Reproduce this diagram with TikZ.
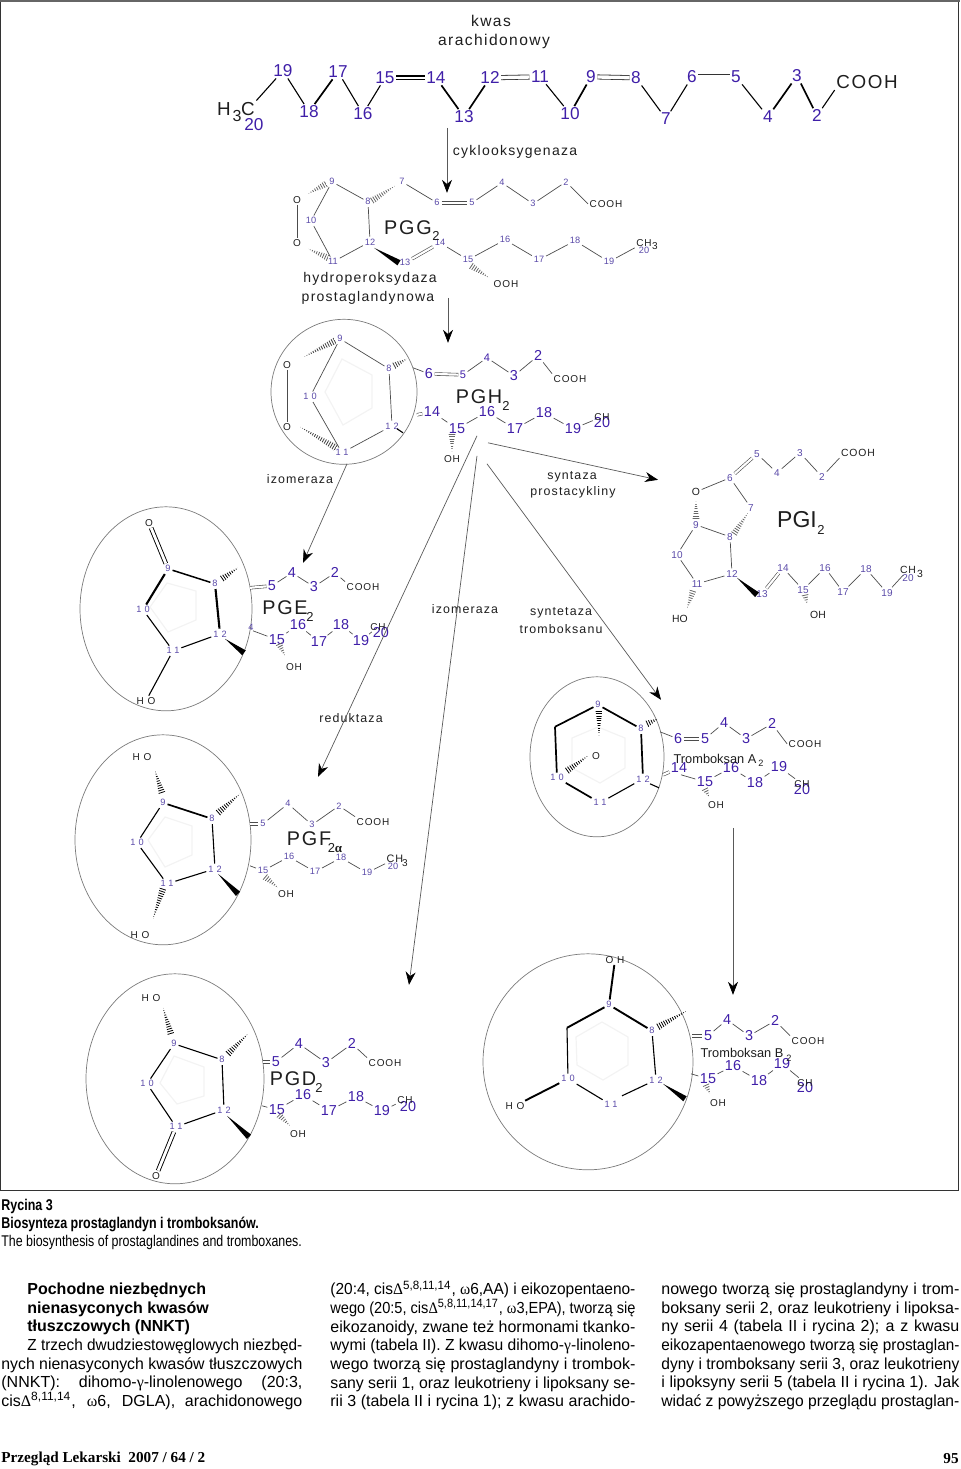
\documentclass[tikz,border=0pt]{standalone}
\usepackage{fontspec}
\usepackage{graphicx}
\usetikzlibrary{arrows.meta,calc,shapes.geometric}
\setmainfont{Liberation Sans}
\newfontfamily\spacedfont[LetterSpace=9]{Liberation Sans}
\newfontfamily\ringfont[LetterSpace=35]{Liberation Sans}
\newfontfamily\narrowfont[FakeStretch=0.8]{Liberation Sans}
\newfontfamily\greekfont{Liberation Serif}
\definecolor{numblue}{HTML}{3F1FA8}
\definecolor{numpurple}{HTML}{5A4AA8}
\definecolor{ink}{HTML}{1E1E1E}
\definecolor{ringline}{HTML}{7A7A7A}
\definecolor{ghostline}{HTML}{F3F3F3}
\tikzset{
    bignum/.style={inner sep=0.6pt,text=numblue,font=\fontsize{8.6}{9}\selectfont},
    midnum/.style={inner sep=0.6pt,text=numblue,font=\fontsize{7.2}{8}\selectfont},
    tinynum/.style={inner sep=0.8pt,text=numpurple,font=\fontsize{4.6}{5}\selectfont},
    ringnum/.style={inner sep=0.8pt,text=numpurple,font=\ringfont\fontsize{4.6}{5}\selectfont},
    atomtext/.style={inner sep=0.6pt,text=ink,font=\spacedfont\fontsize{5}{6}\selectfont},
    bigatom/.style={inner sep=0.6pt,text=ink,font=\spacedfont\fontsize{9.4}{10}\selectfont},
    prostname/.style={inner sep=0pt,text=ink,font=\spacedfont\fontsize{9.9}{11}\selectfont},
    subname/.style={inner sep=0pt,text=ink,font=\fontsize{6.5}{7}\selectfont},
    enzyme/.style={inner sep=0pt,text=ink,font=\spacedfont\fontsize{7}{8}\selectfont},
    lowenzyme/.style={inner sep=0pt,text=ink,font=\spacedfont\fontsize{6.2}{8}\selectfont},
    bond/.style={draw=black!70,line width=0.35pt},
    darkbond/.style={draw=black,line width=0.55pt},
    boldbond/.style={draw=black,line width=1.05pt},
    dblbond/.style={draw=black!70,line width=0.3pt,double=white,double distance=1.1pt},
    blackdbl/.style={draw=black,line width=0.45pt,double=white,double distance=1.4pt},
    ghost/.style={draw=ghostline,line width=0.6pt},
    lens/.style={draw=ringline,line width=0.35pt},
    pathway/.style={draw=black!65,line width=0.35pt,-{Stealth[length=6.5pt,width=5pt,black]}}
}
\newcommand{\wedgebond}[2]{\fill[black] (#1) -- ($(#2)!1.5pt!90:(#1)$) -- ($(#2)!1.5pt!-90:(#1)$) -- cycle;}
\newcommand{\hashbond}[3][black]{\begin{scope}
    \clip ($(#2)!1.7pt!90:(#3)$) -- ($(#2)!1.7pt!-90:(#3)$) -- (#3) -- cycle;
    \draw[#1,line width=4pt,dash pattern=on 0.4pt off 0.8pt] (#2) -- (#3);
\end{scope}}
\newsavebox\linebox
\newcommand{\colline}[1]{\sbox\linebox{#1}\ifdim\wd\linebox>\colw\relax\resizebox{\colw}{\ht\linebox}{\usebox\linebox}\else\makebox[\colw][s]{#1}\fi}
\newcommand{\gk}[1]{{\greekfont #1}}
\begin{document}
\begin{tikzpicture}[x=0.5pt,y=-0.5pt,every node/.style={yshift=-0.4pt}]
    \useasboundingbox (0,0) rectangle (960,1469);
    % Frame
    \draw[black!80,line width=0.5pt] (0.5,1) rectangle (958,1190);
    \draw[black!60,line width=1.2pt] (0,1) -- (960,1);

    % Arachidonic acid
    \node[enzyme,font=\spacedfont\fontsize{7.8}{9}\selectfont] (kwas) at (491,20) {kwas};
    \node[enzyme,font=\spacedfont\fontsize{7.8}{9}\selectfont] (arach) at (494,41) {arachidonowy};
    \foreach \nm/\px/\py in {19/283/70,18/309/111,17/338/71,16/363/113,15/385/77,14/436/77,13/464/116,
        12/490/77,11/540/76,10/570/113,9/591/76,8/636/77,7/666/118,6/692/76,5/736/76,4/768/116,3/797/75,2/817/115,20/254/124}
        \node[bignum] (a\nm) at (\px,\py) {\nm};
    \node[bigatom] (aH) at (224,108) {H};
    \node[bigatom,font=\fontsize{8}{9}\selectfont] (aThree) at (237,115) {3};
    \node[bigatom] (aC) at (248,108) {C};
    \node[bigatom] (aCOOH) at (867,81) {COOH};
    \foreach \p/\q in {aC.north east/a19,a19/a18,a17/a16,a16/a15,a11/a10,a8/a7,a7/a6,a5/a4,a2/aCOOH.south west}
        \draw[darkbond] (\p) -- (\q);
    \foreach \p/\q in {a18/a17,a14/a13,a13/a12,a10/a9,a4/a3,a3/a2}
        \draw[draw=black,line width=0.85pt] (\p) -- (\q);
    \draw[draw=black,line width=0.55pt,double=white,double distance=1.3pt] (a15) -- (a14);
    \foreach \p/\q in {a12/a11,a9/a8,a6/a5}
        \draw[draw=black!80,line width=0.4pt,double=white,double distance=1.7pt] (\p) -- (\q);

    % PGG2
    \node[enzyme] (cox) at (515,151) {cyklooksygenaza};
    \foreach \nm/\px/\py in {9/332/181,8/368/201,7/402/181,6/437/202,5/472/202,4/502/182,3/533/203,2/566/181,
        10/311/220,11/333/261,12/370/241,13/405/262,14/440/242,15/468/259,16/505/239,17/539/259,18/575/240,19/609/261,20/644/250}
        \node[tinynum] (g\nm) at (\px,\py) {\nm};
    \node[atomtext] (gO1) at (297,199) {O};
    \node[atomtext] (gO2) at (297,242) {O};
    \node[atomtext] (gCOOH) at (606,203) {COOH};
    \node[atomtext] (gCH) at (644,242) {CH};
    \node[atomtext] (gCHt) at (655,245) {3};
    \node[atomtext] (gOOH) at (506,283) {OOH};
    \node[prostname] (gname) at (408,227) {PGG};
    \node[subname] (gsub) at (436,235) {2};
    \node[enzyme] (hydro) at (370,278) {hydroperoksydaza};
    \node[enzyme] (prost) at (368,297) {prostaglandynowa};
    \foreach \p/\q in {g9/g8,g8/g12,g12/g11,g11/g10,g10/g9,gO1/gO2,g7/g6,g5/g4,g4/g3,g3/g2,g2/gCOOH.west,
        g14/g15,g15/g16,g16/g17,g17/g18,g18/g19,g19/gCH}
        \draw[bond] (\p) -- (\q);
    \foreach \p/\q in {g6/g5,g13/g14}
        \draw[dblbond] (\p) -- (\q);
    \coordinate (gw1) at (374,247);
    \coordinate (gw2) at (399,262);
    \wedgebond{gw1}{gw2}
    \coordinate (gh1) at (372,200);
    \coordinate (gh2) at (395,185);
    \coordinate (gh3) at (326,183);
    \coordinate (gh4) at (308,193);
    \coordinate (gh5) at (328,257);
    \coordinate (gh6) at (308,248);
    \coordinate (gh7) at (471,265);
    \coordinate (gh8) at (489,277);
    \hashbond[black!60]{gh1}{gh2}
    \hashbond[black!60]{gh3}{gh4}
    \hashbond[black!60]{gh5}{gh6}
    \hashbond[black!60]{gh7}{gh8}

    % PGH2
    \draw[ghost] (342,359) -- (372,375) -- (372,408) -- (343,425) -- (325,392) -- cycle;
    \node[lens,ellipse,minimum width=73pt,minimum height=72.5pt,inner sep=0pt] (hlens) at (344,391) {};
    \foreach \nm/\px/\py in {9/340/338,8/389/368}
        \node[tinynum] (h\nm) at (\px,\py) {\nm};
    \foreach \nm/\px/\py in {10/310/396,11/342/452,12/392/425}
        \node[ringnum] (h\nm) at (\px,\py) {\nm};
    \foreach \nm/\px/\py in {6/429/373,3/514/375,2/538/355,14/432/411,15/457/428,16/487/411,17/515/428,18/544/412,19/573/428,20/602/422}
        \node[midnum] (h\nm) at (\px,\py) {\nm};
    \foreach \nm/\px/\py in {5/463/374,4/487/357}
        \node[midnum,font=\fontsize{5.5}{6}\selectfont] (h\nm) at (\px,\py) {\nm};
    \node[atomtext] (hO1) at (287,364) {O};
    \node[atomtext] (hO2) at (287,426) {O};
    \node[atomtext] (hCOOH) at (570,378) {COOH};
    \node[atomtext] (hCH) at (602,416) {CH};
    \node[atomtext] (hOH) at (452,458) {OH};
    \node[prostname] (hname) at (479,396) {PGH};
    \node[subname] (hsub) at (506,405) {2};
    \coordinate (he1) at (413,367);
    \coordinate (he2) at (417,414);
    \coordinate (he3) at (397,428);
    \coordinate (he4) at (403,432);
    \foreach \p/\q in {h9/h8,h8/h12,h12/h11,h11/h10,h10/h9,he1/h6,h5/h4,h4/h3,h3/h2,h2/hCOOH.north west,
        h14/h15,h15/h16,h16/h17,h17/h18,h18/h19,h19/hCH}
        \draw[bond] (\p) -- (\q);
    \draw[bond] (hO1.south) -- (hO2.north);
    \draw[dblbond] (h6) -- (h5);
    \draw[dblbond] (he2) -- (h14);
    \draw[darkbond] (he3) -- (he4);
    \coordinate (hh1) at (335,340);
    \coordinate (hh2) at (304,356);
    \coordinate (hh3) at (336,447);
    \coordinate (hh4) at (300,426);
    \coordinate (hh5) at (394,365);
    \coordinate (hh6) at (407,358);
    \coordinate (hh7) at (452,433);
    \coordinate (hh8) at (452,451);
    \hashbond[black!75]{hh1}{hh2}
    \hashbond[black!75]{hh3}{hh4}
    \hashbond[black!75]{hh5}{hh6}
    \hashbond[black!60]{hh7}{hh8}

    % PGI2
    \foreach \nm/\px/\py in {5/757/453,3/800/452,4/777/472,2/822/476,6/730/477,7/751/507,9/696/524,8/730/536,10/677/554,
        12/732/573,11/697/583,13/762/593,14/783/567,15/803/589,16/825/567,17/843/591,18/866/568,19/887/592,20/908/577}
        \node[tinynum,font=\fontsize{5}{6}\selectfont] (i\nm) at (\px,\py) {\nm};
    \node[atomtext,font=\fontsize{5.2}{6}\selectfont] (iO) at (696,491) {O};
    \node[atomtext,font=\spacedfont\fontsize{5.2}{6}\selectfont] (iCOOH) at (858,452) {COOH};
    \node[atomtext,font=\spacedfont\fontsize{5.2}{6}\selectfont] (iCH) at (908,569) {CH};
    \node[atomtext,font=\fontsize{5.2}{6}\selectfont] (iCHt) at (920,573) {3};
    \node[atomtext,font=\fontsize{5.2}{6}\selectfont] (iHO) at (680,618) {HO};
    \node[atomtext,font=\fontsize{5.2}{6}\selectfont] (iOH) at (818,614) {OH};
    \node[prostname,font=\fontsize{11.5}{12}\selectfont] (iname) at (797,519) {PGI};
    \node[subname] (isub) at (821,529) {2};
    \node[lowenzyme] (synpro) at (572,476) {syntaza};
    \node[lowenzyme] (synpro2) at (573,491) {prostacykliny};
    \foreach \p/\q in {i5/i4,i4/i3,i3/i2,i2/iCOOH.south west,i6/iO,i6/i7,i9/i8,i8/i12,i12/i11,i11/i10,i10/i9,
        i14/i15,i15/i16,i16/i17,i17/i18,i18/i19,i19/iCH}
        \draw[bond] (\p) -- (\q);
    \draw[dblbond] (i6) -- (i5);
    \draw[dblbond] (i13) -- (i14);
    \coordinate (iw1) at (737,577);
    \coordinate (iw2) at (757,594);
    \wedgebond{iw1}{iw2}
    \coordinate (ih1) at (693,590);
    \coordinate (ih2) at (687,608);
    \coordinate (ih3) at (696,518);
    \coordinate (ih4) at (696,500);
    \coordinate (ih5) at (734,533);
    \coordinate (ih6) at (748,512);
    \coordinate (ih7) at (805,594);
    \coordinate (ih8) at (807,603);
    \hashbond[black!60]{ih1}{ih2}
    \hashbond[black!60]{ih3}{ih4}
    \hashbond[black!60]{ih5}{ih6}
    \hashbond[black!60]{ih7}{ih8}

    % PGE2
    \draw[ghost] (167,583) -- (196,591) -- (196,620) -- (168,632) -- (150,607) -- cycle;
    \node[lens,ellipse,minimum width=86pt,minimum height=102pt,inner sep=0pt] (elens) at (166,608) {};
    \node[tinynum] (e9) at (168,568) {9};
    \node[tinynum] (e8) at (215,583) {8};
    \foreach \nm/\px/\py in {10/143/609,11/173/650,12/220/633}
        \node[ringnum] (e\nm) at (\px,\py) {\nm};
    \foreach \nm/\px/\py in {5/272/585,4/292/572,3/314/586,2/335/572,15/277/639,16/298/624,17/319/641,18/341/624,19/361/640,20/381/632}
        \node[midnum] (e\nm) at (\px,\py) {\nm};
    \node[tinynum] (ecut) at (251,627) {4};
    \node[atomtext] (eO) at (149,522) {O};
    \node[atomtext] (eHO) at (146,700) {H O};
    \node[atomtext] (eCOOH) at (363,586) {COOH};
    \node[atomtext] (eCH) at (378,626) {CH};
    \node[atomtext] (eOH) at (294,666) {OH};
    \node[prostname] (ename) at (285,607) {PGE};
    \node[subname] (esub) at (310,616) {2};
    \node[lowenzyme] (izo1) at (300,478) {izomeraza};
    \node[lowenzyme] (izo2) at (465,608) {izomeraza};
    \node[lowenzyme] (synt) at (561,612) {syntetaza};
    \node[lowenzyme] (synt2) at (561,628) {tromboksanu};
    \node[lowenzyme] (redu) at (351,717) {reduktaza};
    \coordinate (ee1) at (250,587);
    \coordinate (ee2) at (253,630);
    \coordinate (ee3) at (222,578);
    \coordinate (ee4) at (238,567);
    \coordinate (ee5) at (225,638);
    \coordinate (ee6) at (244,652);
    \foreach \p/\q in {e5/e4,e4/e3,e3/e2,e2/eCOOH.north west,ee2/e15,e15/e16,e16/e17,e17/e18,e18/e19,e19/eCH}
        \draw[bond] (\p) -- (\q);
    \foreach \p/\q in {e12/e11,e11/e10,e11/eHO}
        \draw[darkbond] (\p) -- (\q);
    \draw[draw=black,line width=0.75pt] (e9) -- (e8);
    \foreach \p/\q in {e9/e10,e8/e12}
        \draw[boldbond] (\p) -- (\q);
    \draw[blackdbl] (eO) -- (e9);
    \draw[dblbond] (ee1) -- (e5);
    \wedgebond{ee5}{ee6}
    \hashbond{ee3}{ee4}
    \coordinate (eh1) at (279,643);
    \coordinate (eh2) at (285,655);
    \hashbond[black!60]{eh1}{eh2}

    % PGF2alpha
    \draw[ghost] (165,817) -- (192,826) -- (192,855) -- (165,867) -- (148,840) -- cycle;
    \node[lens,ellipse,minimum width=88pt,minimum height=105pt,inner sep=0pt] (flens) at (163,839) {};
    \node[tinynum] (f9) at (163,802) {9};
    \node[tinynum] (f8) at (212,818) {8};
    \foreach \nm/\px/\py in {10/137/842,11/167/883,12/215/868}
        \node[ringnum] (f\nm) at (\px,\py) {\nm};
    \foreach \nm/\px/\py in {5/263/823,4/288/803,3/312/824,2/339/805,15/263/870,16/289/856,17/315/871,18/341/857,19/367/872,20/393/866}
        \node[tinynum] (f\nm) at (\px,\py) {\nm};
    \node[atomtext] (fHO1) at (142,756) {H O};
    \node[atomtext] (fHO2) at (140,934) {H O};
    \node[atomtext] (fCOOH) at (373,821) {COOH};
    \node[atomtext,font=\spacedfont\fontsize{5.4}{6}\selectfont] (fCH) at (395,858) {CH};
    \node[atomtext] (fCHt) at (405,862) {3};
    \node[atomtext] (fOH) at (286,893) {OH};
    \node[prostname] (fname) at (309,838) {PGF};
    \node[subname,font=\fontsize{6.5}{7}\selectfont] (fsub) at (335,847) {2\gk{\bfseries α}};
    \coordinate (fe1) at (250,823);
    \coordinate (fe2) at (250,865);
    \coordinate (fh1) at (162,792);
    \coordinate (fh2) at (155,770);
    \coordinate (fh3) at (218,812);
    \coordinate (fh4) at (240,793);
    \coordinate (fh5) at (163,888);
    \coordinate (fh6) at (153,918);
    \coordinate (fh7) at (265,876);
    \coordinate (fh8) at (278,887);
    \coordinate (fw1) at (218,873);
    \coordinate (fw2) at (238,893);
    \foreach \p/\q in {f5/f4,f4/f3,f3/f2,f2/fCOOH.north west,fe2/f15,f15/f16,f16/f17,f17/f18,f18/f19,f19/fCH}
        \draw[bond] (\p) -- (\q);
    \foreach \p/\q in {f8/f12,f12/f11,f11/f10,f10/f9}
        \draw[darkbond] (\p) -- (\q);
    \draw[draw=black,line width=0.85pt] (f9) -- (f8);
    \draw[dblbond] (fe1) -- (f5);
    \wedgebond{fw1}{fw2}
    \hashbond{fh1}{fh2}
    \hashbond{fh3}{fh4}
    \hashbond{fh5}{fh6}
    \hashbond[black!60]{fh7}{fh8}

    % PGD2
    \draw[ghost] (174,1056) -- (204,1067) -- (204,1096) -- (177,1104) -- (160,1083) -- cycle;
    \node[lens,ellipse,minimum width=89pt,minimum height=105pt,inner sep=0pt] (dlens) at (175,1078) {};
    \node[tinynum] (d9) at (174,1043) {9};
    \node[tinynum] (d8) at (222,1059) {8};
    \foreach \nm/\px/\py in {10/147/1083,11/176/1126,12/224/1109}
        \node[ringnum] (d\nm) at (\px,\py) {\nm};
    \foreach \nm/\px/\py in {5/276/1061,4/299/1043,3/326/1062,2/352/1043,15/277/1109,16/303/1094,17/329/1110,18/356/1096,19/382/1110,20/408/1106}
        \node[midnum] (d\nm) at (\px,\py) {\nm};
    \node[atomtext] (dHO) at (151,997) {H O};
    \node[atomtext] (dO) at (156,1175) {O};
    \node[atomtext] (dCOOH) at (385,1062) {COOH};
    \node[atomtext] (dCH) at (405,1099) {CH};
    \node[atomtext] (dOH) at (298,1133) {OH};
    \node[prostname] (dname) at (293,1078) {PGD};
    \node[subname] (dsub) at (319,1087) {2};
    \coordinate (de1) at (263,1061);
    \coordinate (de2) at (262,1105);
    \coordinate (dh1) at (171,1033);
    \coordinate (dh2) at (163,1007);
    \coordinate (dh3) at (228,1053);
    \coordinate (dh4) at (248,1033);
    \coordinate (dh5) at (279,1114);
    \coordinate (dh6) at (290,1125);
    \coordinate (dw1) at (227,1115);
    \coordinate (dw2) at (249,1136);
    \foreach \p/\q in {d5/d4,d4/d3,d3/d2,d2/dCOOH.north west,de2/d15,d15/d16,d16/d17,d17/d18,d18/d19,d19/dCH}
        \draw[bond] (\p) -- (\q);
    \foreach \p/\q in {d9/d8,d8/d12,d12/d11,d11/d10,d10/d9}
        \draw[darkbond] (\p) -- (\q);
    \draw[blackdbl] (d11) -- (dO);
    \draw[dblbond] (de1) -- (d5);
    \wedgebond{dw1}{dw2}
    \hashbond{dh1}{dh2}
    \hashbond{dh3}{dh4}
    \hashbond[black!60]{dh5}{dh6}

    % Thromboxane A2
    \draw[ghost] (598,727) -- (625,738) -- (625,768) -- (600,783) -- (572,768) -- (572,738) -- cycle;
    \node[lens,ellipse,minimum width=67pt,minimum height=80pt,inner sep=0pt] (alens) at (597,756) {};
    \node[tinynum] (x9) at (598,704) {9};
    \node[tinynum] (x8) at (641,728) {8};
    \foreach \nm/\px/\py in {10/557/777,11/600/802,12/643/778}
        \node[ringnum] (x\nm) at (\px,\py) {\nm};
    \foreach \nm/\px/\py in {6/678/738,5/705/738,4/724/722,3/746/738,2/772/723,14/679/767,15/705/781,16/731/767,18/755/782,19/779/766,20/802/789}
        \node[midnum] (x\nm) at (\px,\py) {\nm};
    \node[atomtext] (xO) at (596,755) {O};
    \node[atomtext] (xCOOH) at (805,743) {COOH};
    \node[atomtext] (xCH) at (802,783) {CH};
    \node[atomtext] (xOH) at (716,804) {OH};
    \node[inner sep=0pt,text=ink,font=\fontsize{6.4}{8}\selectfont] (xname) at (715,758) {Tromboksan A};
    \node[subname,font=\fontsize{4.6}{6}\selectfont] (xsub) at (761,762) {2};
    \coordinate (xc) at (555,726);
    \coordinate (xe1) at (660,731);
    \coordinate (xe2) at (663,774);
    \coordinate (xe3) at (650,783);
    \coordinate (xe4) at (659,787);
    \coordinate (xe5) at (681,774);
    \coordinate (xh1) at (599,710);
    \coordinate (xh2) at (599,735);
    \coordinate (xh3) at (567,770);
    \coordinate (xh4) at (588,755);
    \coordinate (xh5) at (647,723);
    \coordinate (xh6) at (658,718);
    \coordinate (xh7) at (705,788);
    \coordinate (xh8) at (709,796);
    \foreach \p/\q in {xe1/x6,x5/x4,x4/x3,x3/x2,x2/xCOOH.west,xe5/x15,x15/x16,x16/x18,x18/x19,x19/xCH}
        \draw[bond] (\p) -- (\q);
    \foreach \p/\q in {x9/xc,xc/x10,x10/x11,x8/x9,x8/x12}
        \draw[draw=black,line width=0.85pt] (\p) -- (\q);
    \foreach \p/\q in {x11/x12,xe3/xe4}
        \draw[darkbond] (\p) -- (\q);
    \draw[dblbond] (x6) -- (x5);
    \draw[dblbond] (xe2) -- (x14);
    \hashbond{xh1}{xh2}
    \hashbond{xh3}{xh4}
    \hashbond{xh5}{xh6}
    \hashbond[black!60]{xh7}{xh8}

    % Thromboxane B2
    \draw[ghost] (602,1022) -- (628,1037) -- (628,1065) -- (603,1080) -- (577,1065) -- (576,1037) -- cycle;
    \node[lens,ellipse,minimum width=105pt,minimum height=108pt,inner sep=0pt] (blens) at (588,1061) {};
    \node[tinynum] (b9) at (609,1004) {9};
    \node[tinynum] (b8) at (652,1030) {8};
    \foreach \nm/\px/\py in {10/568/1078,11/611/1104,12/656/1079}
        \node[ringnum] (b\nm) at (\px,\py) {\nm};
    \foreach \nm/\px/\py in {5/708/1035,4/727/1019,3/749/1035,2/775/1020,15/708/1078,16/733/1065,18/759/1080,19/782/1063,20/805/1087}
        \node[midnum] (b\nm) at (\px,\py) {\nm};
    \node[atomtext] (bOH) at (615,959) {O H};
    \node[atomtext] (bHO) at (515,1105) {H O};
    \node[atomtext] (bCOOH) at (808,1040) {COOH};
    \node[atomtext] (bCH) at (805,1082) {CH};
    \node[atomtext] (bOHr) at (718,1102) {OH};
    \node[inner sep=0pt,text=ink,font=\fontsize{6.4}{8}\selectfont] (bname) at (742,1052) {Tromboksan B};
    \node[subname,font=\fontsize{4.6}{6}\selectfont] (bsub) at (789,1057) {2};
    \coordinate (bc) at (567,1027);
    \coordinate (be1) at (692,1035);
    \coordinate (be2) at (691,1073);
    \coordinate (be3) at (622,1095);
    \coordinate (bh1) at (658,1026);
    \coordinate (bh2) at (687,1010);
    \coordinate (bh3) at (706,1084);
    \coordinate (bh4) at (710,1093);
    \coordinate (bw1) at (663,1083);
    \coordinate (bw2) at (685,1098);
    \foreach \p/\q in {b5/b4,b4/b3,b3/b2,b2/bCOOH.north west,be2/b15,b15/b16,b16/b18,b18/b19,b19/bCH}
        \draw[bond] (\p) -- (\q);
    \foreach \p/\q in {b8/b12,b12/be3,bc/b10,b10/b11}
        \draw[darkbond] (\p) -- (\q);
    \foreach \p/\q in {bOH/b9,b9/bc,b9/b8,b10/bHO}
        \draw[draw=black,line width=0.95pt] (\p) -- (\q);
    \draw[dblbond] (be1) -- (b5);
    \wedgebond{bw1}{bw2}
    \hashbond{bh1}{bh2}
    \hashbond[black!60]{bh3}{bh4}

    % Pathway arrows
    \coordinate (p1s) at (447,127);
    \coordinate (p1e) at (447,192);
    \coordinate (p2s) at (448,297);
    \coordinate (p2e) at (448,342);
    \coordinate (p3s) at (347,463);
    \coordinate (p3e) at (303,562);
    \coordinate (p4s) at (477,435);
    \coordinate (p4e) at (318,776);
    \coordinate (p5s) at (477,455);
    \coordinate (p5e) at (409,984);
    \coordinate (p6s) at (487,463);
    \coordinate (p6e) at (661,699);
    \coordinate (p7s) at (488,442);
    \coordinate (p7e) at (658,479);
    \coordinate (p8s) at (733,827);
    \coordinate (p8e) at (733,994);
    \foreach \s/\e in {p1s/p1e,p2s/p2e,p3s/p3e,p4s/p4e,p5s/p5e,p6s/p6e,p7s/p7e,p8s/p8e}
        \draw[pathway] (\s) -- (\e);

    % Caption and article text
    \node[anchor=west,inner sep=0pt,font=\narrowfont\bfseries\fontsize{7.8}{8}\selectfont] (capa) at (1,1206) {Rycina 3};
    \node[anchor=west,inner sep=0pt,font=\narrowfont\bfseries\fontsize{7.8}{8}\selectfont] (capb) at (1,1224) {Biosynteza prostaglandyn i tromboksanów.};
    \node[anchor=west,inner sep=0pt,font=\narrowfont\fontsize{7.75}{8}\selectfont] (capc) at (1,1242) {The biosynthesis of prostaglandines and tromboxanes.};

    \def\colw{150.5pt}
    \node[anchor=north west,inner sep=0pt,align=left,font=\fontsize{8}{9.35}\selectfont] (cola) at (1,1281.5) {%
        \hspace*{13pt}\textbf{Pochodne niezbędnych}\\
        \hspace*{13pt}\textbf{nienasyconych kwasów}\\
        \hspace*{13pt}\textbf{tłuszczowych (NNKT)}\\
        \hspace*{13pt}\def\colw{137.5pt}\colline{Z trzech dwudziestowęglowych niezbęd-}\\
        \colline{nych nienasyconych kwasów tłuszczowych}\\
        \colline{(NNKT): dihomo-\gk{γ}-linolenowego (20:3,}\\
        \colline{cis\gk{Δ}\textsuperscript{8,11,14}, \gk{ω}6, DGLA), arachidonowego}};
    \def\colw{152.5pt}
    \node[anchor=north west,inner sep=0pt,align=left,font=\fontsize{8}{9.35}\selectfont] (colb) at (330,1279.5) {%
        \colline{(20:4, cis\gk{Δ}\textsuperscript{5,8,11,14}, \gk{ω}6,AA) i eikozopentaeno-}\\
        \colline{wego (20:5, cis\gk{Δ}\textsuperscript{5,8,11,14,17}, \gk{ω}3,EPA), tworzą się}\\
        \colline{eikozanoidy, zwane też hormonami tkanko-}\\
        \colline{wymi (tabela II). Z kwasu dihomo-\gk{γ}-linoleno-}\\
        \colline{wego tworzą się prostaglandyny i trombok-}\\
        \colline{sany serii 1, oraz leukotrieny i lipoksany se-}\\
        \colline{rii 3 (tabela II i rycina 1); z kwasu arachido-}};
    \def\colw{149pt}
    \node[anchor=north west,inner sep=0pt,align=left,font=\fontsize{8}{9.35}\selectfont] (colc) at (661,1281.5) {%
        \colline{nowego tworzą się prostaglandyny i trom-}\\
        \colline{boksany serii 2, oraz leukotrieny i lipoksa-}\\
        \colline{ny serii 4 (tabela II i rycina 2); a z kwasu}\\
        \colline{eikozapentaenowego tworzą się prostaglan-}\\
        \colline{dyny i tromboksany serii 3, oraz leukotrieny}\\
        \colline{i lipoksyny serii 5 (tabela II i rycina 1). Jak}\\
        \colline{widać z powyższego przeglądu prostaglan-}};
    \node[anchor=west,inner sep=0pt,font=\greekfont\bfseries\fontsize{7.6}{9}\selectfont] (foota) at (1,1458) {Przegląd Lekarski\ \ 2007 / 64 / 2};
    \node[anchor=east,inner sep=0pt,font=\greekfont\bfseries\fontsize{7.6}{9}\selectfont] (footb) at (959,1458) {95};
\end{tikzpicture}
\end{document}
